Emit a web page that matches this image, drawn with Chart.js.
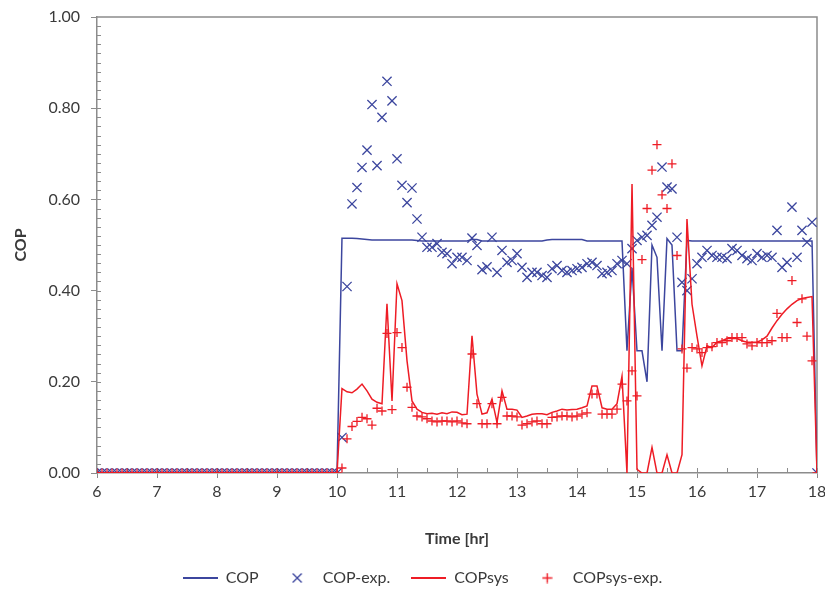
<!DOCTYPE html>
<html><head><meta charset="utf-8">
<script src="https://cdn.jsdelivr.net/npm/chart.js@4.4.1/dist/chart.umd.min.js"></script>
<style>html,body{margin:0;padding:0;background:#fff}</style>
</head><body>
<canvas id="c" width="825" height="590" style="width:825px;height:590px;display:block"></canvas>
<script>
// time of day [hr], 5-minute samples
const timeHr = [
 6.000,6.083,6.167,6.250,6.333,6.417,6.500,6.583,6.667,6.750,6.833,6.917,
 7.000,7.083,7.167,7.250,7.333,7.417,7.500,7.583,7.667,7.750,7.833,7.917,
 8.000,8.083,8.167,8.250,8.333,8.417,8.500,8.583,8.667,8.750,8.833,8.917,
 9.000,9.083,9.167,9.250,9.333,9.417,9.500,9.583,9.667,9.750,9.833,9.917,
 10.000,10.083,10.167,10.250,10.333,10.417,10.500,10.583,10.667,10.750,10.833,10.917,
 11.000,11.083,11.167,11.250,11.333,11.417,11.500,11.583,11.667,11.750,11.833,11.917,
 12.000,12.083,12.167,12.250,12.333,12.417,12.500,12.583,12.667,12.750,12.833,12.917,
 13.000,13.083,13.167,13.250,13.333,13.417,13.500,13.583,13.667,13.750,13.833,13.917,
 14.000,14.083,14.167,14.250,14.333,14.417,14.500,14.583,14.667,14.750,14.833,14.917,
 15.000,15.083,15.167,15.250,15.333,15.417,15.500,15.583,15.667,15.750,15.833,15.917,
 16.000,16.083,16.167,16.250,16.333,16.417,16.500,16.583,16.667,16.750,16.833,16.917,
 17.000,17.083,17.167,17.250,17.333,17.417,17.500,17.583,17.667,17.750,17.833,17.917,
 18.000];

const copSim = [
 0,0,0,0,0,0,0,0,0,0,0,0,
 0,0,0,0,0,0,0,0,0,0,0,0,
 0,0,0,0,0,0,0,0,0,0,0,0,
 0,0,0,0,0,0,0,0,0,0,0,0,
 0,0.515,0.515,0.515,0.514,0.513,0.512,0.511,0.511,0.511,0.511,0.511,
 0.511,0.511,0.511,0.511,0.510,0.509,0.509,0.509,0.509,0.509,0.509,0.509,
 0.509,0.509,0.509,0.512,0.512,0.509,0.509,0.509,0.509,0.509,0.509,0.509,
 0.509,0.509,0.509,0.509,0.509,0.509,0.511,0.512,0.512,0.512,0.512,0.512,
 0.512,0.512,0.509,0.509,0.509,0.509,0.509,0.509,0.509,0.509,0.268,0.450,
 0.268,0.268,0.200,0.500,0.473,0.268,0.514,0.500,0.268,0.268,0.510,0.509,
 0.509,0.509,0.509,0.509,0.509,0.509,0.509,0.509,0.509,0.509,0.509,0.509,
 0.509,0.509,0.509,0.509,0.509,0.509,0.509,0.509,0.509,0.509,0.509,0.509,
 0];

const copExp = [
 0,0,0,0,0,0,0,0,0,0,0,0,
 0,0,0,0,0,0,0,0,0,0,0,0,
 0,0,0,0,0,0,0,0,0,0,0,0,
 0,0,0,0,0,0,0,0,0,0,0,0,
 0,0.078,0.409,0.590,0.626,0.670,0.708,0.808,0.674,0.780,0.859,0.816,
 0.689,0.631,0.593,0.625,0.557,0.517,0.495,0.495,0.503,0.484,0.481,0.459,
 0.473,0.473,0.466,0.515,0.499,0.446,0.452,0.517,0.440,0.488,0.462,0.466,
 0.481,0.451,0.429,0.440,0.440,0.433,0.429,0.448,0.455,0.444,0.440,0.444,
 0.448,0.451,0.459,0.462,0.455,0.437,0.440,0.444,0.459,0.466,0.459,0.492,
 0.510,0.517,0.521,0.543,0.561,0.671,0.627,0.623,0.517,0.418,0.400,0.426,
 0.459,0.473,0.488,0.477,0.473,0.473,0.470,0.492,0.488,0.477,0.470,0.466,
 0.481,0.473,0.477,0.473,0.532,0.451,0.462,0.583,0.473,0.532,0.506,0.550,
 0];

const copSysSim = [
 0,0,0,0,0,0,0,0,0,0,0,0,
 0,0,0,0,0,0,0,0,0,0,0,0,
 0,0,0,0,0,0,0,0,0,0,0,0,
 0,0,0,0,0,0,0,0,0,0,0,0,
 0,0.185,0.178,0.176,0.184,0.195,0.180,0.162,0.155,0.152,0.371,0.158,
 0.415,0.378,0.246,0.158,0.140,0.133,0.130,0.131,0.129,0.132,0.130,0.134,
 0.133,0.128,0.129,0.301,0.173,0.129,0.132,0.162,0.111,0.180,0.140,0.140,
 0.138,0.122,0.125,0.129,0.130,0.130,0.128,0.133,0.136,0.140,0.138,0.139,
 0.140,0.143,0.147,0.191,0.191,0.143,0.140,0.140,0.152,0.212,0.000,0.634,
 0.008,0.000,0.000,0.056,0.000,0.000,0.040,0.000,0.000,0.040,0.557,0.370,
 0.300,0.235,0.279,0.275,0.287,0.290,0.295,0.295,0.295,0.290,0.287,0.287,
 0.287,0.292,0.300,0.318,0.334,0.348,0.360,0.370,0.378,0.383,0.385,0.387,
 0];

const copSysExp = [
 0,0,0,0,0,0,0,0,0,0,0,0,
 0,0,0,0,0,0,0,0,0,0,0,0,
 0,0,0,0,0,0,0,0,0,0,0,0,
 0,0,0,0,0,0,0,0,0,0,0,0,
 0,0.011,0.075,0.102,0.113,0.122,0.119,0.105,0.142,0.136,0.306,0.139,
 0.308,0.275,0.188,0.144,0.125,0.123,0.119,0.114,0.112,0.114,0.114,0.112,
 0.114,0.110,0.108,0.261,0.152,0.108,0.108,0.152,0.108,0.166,0.125,0.125,
 0.123,0.105,0.108,0.112,0.114,0.108,0.108,0.122,0.123,0.125,0.125,0.123,
 0.125,0.129,0.132,0.173,0.173,0.129,0.129,0.129,0.140,0.195,0.158,0.224,
 0.169,0.468,0.580,0.664,0.720,0.610,0.580,0.678,0.477,0.272,0.230,0.275,
 0.272,0.264,0.275,0.277,0.286,0.286,0.290,0.297,0.297,0.297,0.283,0.279,
 0.286,0.286,0.286,0.290,0.350,0.297,0.297,0.422,0.330,0.382,0.300,0.246,
 0];

const seriesNames = ['COP', 'COP-exp.', 'COPsys', 'COPsys-exp.'];
const xTitle = 'Time [hr]';
const yTitle = 'COP';

const BLUE = '#3C469E';
const RED = '#EE1C25';
const AXIS = '#8C8C8C';
const TXT = '#3A3A3A';

const pts = arr => arr.map((v, i) => ({x: timeHr[i], y: v}));

function mk(w, h, draw) {
  const c = document.createElement('canvas');
  c.width = w; c.height = h;
  draw(c.getContext('2d'));
  return c;
}
const legIcons = [
  mk(35, 2, g => { g.fillStyle = BLUE; g.fillRect(0, 0, 35, 2); }),
  mk(12, 12, g => { g.strokeStyle = BLUE; g.lineWidth = 1.4; g.beginPath();
    g.moveTo(1.5, 1.5); g.lineTo(10.5, 10.5); g.moveTo(10.5, 1.5); g.lineTo(1.5, 10.5); g.stroke(); }),
  mk(35, 2, g => { g.fillStyle = RED; g.fillRect(0, 0, 35, 2); }),
  mk(11, 11, g => { g.strokeStyle = RED; g.lineWidth = 1.4; g.beginPath();
    g.moveTo(0.5, 5.5); g.lineTo(10.5, 5.5); g.moveTo(5.5, 0.5); g.lineTo(5.5, 10.5); g.stroke(); })
];

const frame = {
  id: 'frame',
  afterLayout(chart) {
    const l = chart.legend;
    if (l) { l.left += 10; l.right += 10; }
  },
  beforeDatasetsDraw(chart) {
    const {ctx, chartArea: a, scales: {x, y}} = chart;
    ctx.save();
    ctx.strokeStyle = AXIS;
    ctx.lineWidth = 1.5;
    ctx.beginPath();
    ctx.moveTo(a.left, a.top); ctx.lineTo(a.right, a.top); ctx.lineTo(a.right, a.bottom);
    ctx.stroke();
    ctx.lineWidth = 1;
    ctx.beginPath();
    for (let k = 0; k <= 24; k++) {
      const px = Math.round(x.getPixelForValue(6 + k * 0.5)) + 0.5;
      ctx.moveTo(px, a.bottom); ctx.lineTo(px, a.bottom - 5);
    }
    for (let k = 1; k < 50; k++) {
      const py = Math.round(y.getPixelForValue(k * 0.02)) + 0.5;
      ctx.moveTo(a.left, py); ctx.lineTo(a.left + 4, py);
    }
    ctx.stroke();
    ctx.restore();
  }
};

Chart.defaults.font.family = 'Lato, "Open Sans", sans-serif';
Chart.defaults.font.size = 16;
Chart.defaults.color = TXT;

new Chart(document.getElementById('c'), {
  type: 'scatter',
  data: {
    datasets: [
      {label: seriesNames[0], data: pts(copSim), showLine: true, borderColor: BLUE, borderWidth: 1.5,
       pointRadius: 0, tension: 0, order: 4},
      {label: seriesNames[1], data: pts(copExp), showLine: false, pointStyle: 'crossRot', pointRadius: 6.5,
       borderColor: BLUE, backgroundColor: BLUE, pointBorderWidth: 1.3, order: 3},
      {label: seriesNames[2], data: pts(copSysSim), showLine: true, borderColor: RED, borderWidth: 1.5,
       pointRadius: 0, tension: 0, order: 2},
      {label: seriesNames[3], data: pts(copSysExp), showLine: false, pointStyle: 'cross', pointRadius: 4.5,
       borderColor: RED, backgroundColor: RED, pointBorderWidth: 1.3, order: 1}
    ]
  },
  options: {
    responsive: false,
    animation: false,
    events: [],
    layout: {padding: {left: 0, top: 17, right: 0, bottom: -6}},
    scales: {
      x: {
        type: 'linear', min: 6, max: 18,
        ticks: {stepSize: 1, padding: 4, color: TXT, font: {size: 16}},
        grid: {drawOnChartArea: false, drawTicks: true, tickLength: 5, color: AXIS, lineWidth: 1},
        border: {color: AXIS, width: 1.5},
        title: {display: true, text: xTitle, color: TXT, font: {size: 16, weight: 'bold'}, padding: {top: 0, bottom: 1}},
        afterFit(s) { s.height = 76; s.paddingLeft = 0; s.paddingRight = 8; }
      },
      y: {
        min: 0, max: 1,
        ticks: {stepSize: 0.2, padding: 11, color: TXT, font: {size: 16}, callback: v => Number(v).toFixed(2)},
        grid: {drawOnChartArea: false, drawTicks: true, tickLength: 6, color: AXIS, lineWidth: 1},
        border: {color: AXIS, width: 1.5},
        title: {display: true, text: yTitle, color: TXT, font: {size: 16, weight: 'bold'}, padding: {top: 11, bottom: 0}},
        afterFit(s) { s.width = 97; s.paddingTop = 0; s.paddingBottom = 0; }
      }
    },
    plugins: {
      tooltip: {enabled: false},
      legend: {
        position: 'bottom',
        labels: {
          usePointStyle: true, pointStyleWidth: 35, boxHeight: 8, padding: 21,
          color: TXT, font: {size: 16},
          generateLabels: chart => chart.data.datasets.map((ds, i) => ({
            text: ds.label, pointStyle: legIcons[i], fillStyle: ds.borderColor,
            strokeStyle: ds.borderColor, lineWidth: 0, hidden: false, datasetIndex: i, fontColor: TXT
          }))
        }
      }
    }
  },
  plugins: [frame]
});
</script>
</body></html>
